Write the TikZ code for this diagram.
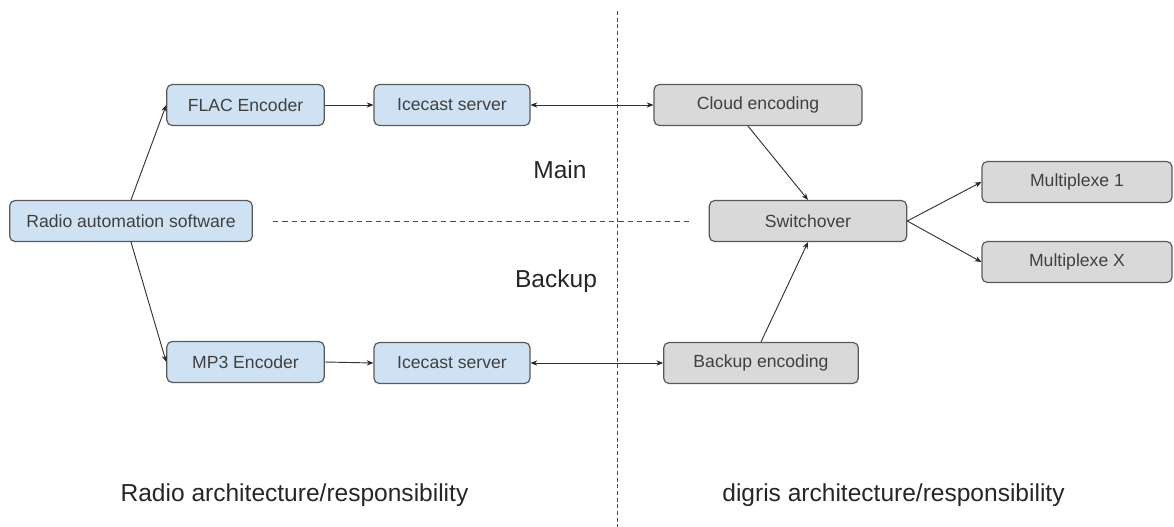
\documentclass[tikz,border=0pt]{standalone}
\usepackage{fontspec}
\setmainfont{Liberation Sans}
\usetikzlibrary{arrows.meta}
\definecolor{boxblue}{HTML}{CFE2F3}
\definecolor{boxgray}{HTML}{D9D9D9}
\definecolor{boxline}{HTML}{595959}

\begin{document}
\begin{tikzpicture}[x=0.75pt, y=-0.75pt]
	\useasboundingbox (0,0) rectangle (1174,527);
	\begin{scope}[every node/.style = {rectangle, rounded corners=4pt, draw=boxline,
			line width=0.9pt, inner sep=0pt, minimum height=30.75pt,
			text=black!75, font=\fontsize{13.2}{16}\selectfont}]
		\node[fill=boxblue, minimum width=182pt] (RAS) at (131,221) {Radio automation software};
		\node[fill=boxblue, minimum width=118pt] (FLAC) at (245.5,105) {FLAC Encoder};
		\node[fill=boxblue, minimum width=117pt] (IC1) at (452,105) {Icecast server};
		\node[fill=boxblue, minimum width=118pt] (MP3) at (245.5,362) {MP3 Encoder};
		\node[fill=boxblue, minimum width=117pt] (IC2) at (452,363) {Icecast server};
		\node[fill=boxgray, minimum width=156pt] (CE) at (758,105) {Cloud encoding};
		\node[fill=boxgray, minimum width=148pt] (SW) at (808,221) {Switchover};
		\node[fill=boxgray, minimum width=146pt] (BE) at (761,363) {Backup encoding};
		\node[fill=boxgray, minimum width=142.5pt] (MUX1) at (1077,182) {Multiplexe 1};
		\node[fill=boxgray, minimum width=142.5pt] (MUXX) at (1077,262) {Multiplexe X};
	\end{scope}
	\begin{scope}[every node/.style = {text=black!85, font=\fontsize{18.4}{22}\selectfont}]
		\node (main) at (560,170) {Main};
		\node (backup) at (556,281) {Backup};
		\node[anchor=base] (radioResp) at (294.5,501) {Radio architecture/responsibility};
		\node[anchor=base] (digrisResp) at (893.5,501) {digris architecture/responsibility};
	\end{scope}
	\coordinate (divTop) at (617,11);
	\coordinate (divBot) at (617,527);
	\coordinate (midL) at (273,221);
	\coordinate (midR) at (692,221);
	\draw[dash pattern=on 3pt off 2pt, black!70, line width=0.6pt] (divTop) -- (divBot);
	\draw[dash pattern=on 4pt off 3pt, black!70, line width=0.6pt] (midL) -- (midR);
	\begin{scope}[>={Stealth[black!85, length=5pt, width=4pt]},
			every edge/.style={draw=black!80, line width=0.7pt}]
		\path [->] (RAS.north) edge (FLAC.west);
		\path [->] (RAS.south) edge (MP3.west);
		\path [->] (FLAC.east) edge (IC1.west);
		\path [->] (MP3.east) edge (IC2.west);
		\path [<->] (IC1.east) edge (CE.west);
		\path [<->] (IC2.east) edge (BE.west);
		\path [->] ([xshift=-7.5pt]CE.south) edge (SW.north);
		\path [->] (BE.north) edge (SW.south);
		\path [->] (SW.east) edge (MUX1.west);
		\path [->] (SW.east) edge (MUXX.west);
	\end{scope}
\end{tikzpicture}
\end{document}
